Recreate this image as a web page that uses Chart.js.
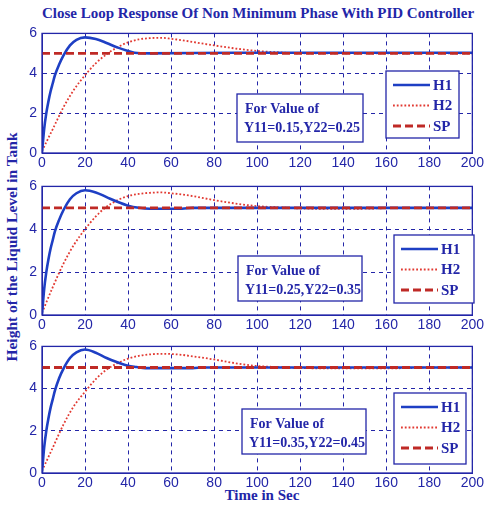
<!DOCTYPE html>
<html>
<head>
<meta charset="utf-8">
<script src="https://cdn.jsdelivr.net/npm/chart.js@4/dist/chart.umd.min.js"></script>
<style>
  body { margin:0; background:#fff; }
  #wrap { position:relative; width:486px; height:506px; overflow:hidden; }
  canvas { position:absolute; left:0; }
  .txt { position:absolute; font-family:"Liberation Serif","DejaVu Serif",serif; font-weight:bold; color:#2326a8; font-size:15px; white-space:nowrap; }
</style>
</head>
<body>
<div id="wrap">
  <div class="txt" style="left:0;width:516px;text-align:center;top:5px;">Close Loop Response Of Non Minimum Phase With PID Controller</div>
  <div class="txt" style="left:12px;top:247px;font-size:15.5px;transform:translate(-50%,-50%) rotate(-90deg);">Height of the Liquid Level in Tank</div>
  <div class="txt" style="left:0;width:524px;text-align:center;top:487px;">Time in Sec</div>
  <canvas id="c1" width="486" height="153" style="top:20px"></canvas>
  <canvas id="c2" width="486" height="162" style="top:173px"></canvas>
  <canvas id="c3" width="486" height="160" style="top:333px"></canvas>
</div>
<script>
// time axis ticks
var xTicks = [0, 20, 40, 60, 80, 100, 120, 140, 160, 180, 200];
var yTicks = [0, 2, 4, 6];

// panel 1 : Y11=0.15, Y22=0.25
var t1H1 = [0, 1, 2, 3, 4, 5, 6, 8, 10, 13, 16, 20, 25, 30, 35, 40, 43, 50, 90, 120, 160, 200];
var h1P1 = [0, 1.2, 2.0, 2.6, 3.1, 3.5, 3.9, 4.45, 4.9, 5.4, 5.68, 5.8, 5.72, 5.52, 5.3, 5.12, 5.03, 5.0, 5.03, 5.03, 5.03, 5.03];
var t1H2 = [0, 5, 10, 15, 20, 25, 30, 35, 40, 45, 50, 55, 60, 65, 70, 80, 90, 100, 110, 120, 160, 200];
var h2P1 = [0.1, 1.2, 2.3, 3.2, 3.9, 4.5, 4.95, 5.3, 5.55, 5.7, 5.76, 5.78, 5.73, 5.66, 5.57, 5.4, 5.24, 5.12, 5.05, 5.0, 5.0, 5.0];

// panel 2 : Y11=0.25, Y22=0.35
var t2H1 = [0, 1, 2, 3, 4, 5, 6, 8, 10, 13, 16, 20, 25, 30, 35, 40, 45, 50, 65, 70, 100, 200];
var h1P2 = [0, 1.2, 2.0, 2.6, 3.1, 3.5, 3.9, 4.45, 4.9, 5.4, 5.68, 5.82, 5.72, 5.5, 5.28, 5.1, 5.0, 4.96, 4.96, 5.0, 5.0, 5.0];
var t2H2 = [0, 5, 10, 15, 20, 25, 30, 35, 40, 45, 50, 55, 60, 65, 70, 80, 90, 100, 110, 125, 140, 155, 165, 200];
var h2P2 = [0.1, 1.3, 2.4, 3.3, 4.0, 4.6, 5.05, 5.35, 5.55, 5.65, 5.7, 5.72, 5.68, 5.62, 5.55, 5.36, 5.2, 5.08, 5.02, 4.96, 4.95, 4.97, 5.0, 5.0];

// panel 3 : Y11=0.35, Y22=0.45
var t3H1 = [0, 1, 2, 3, 4, 5, 6, 8, 10, 13, 16, 20, 25, 30, 35, 40, 44, 48, 70, 75, 200];
var h1P3 = [0, 1.2, 2.0, 2.6, 3.1, 3.5, 3.9, 4.5, 4.95, 5.45, 5.72, 5.85, 5.7, 5.45, 5.25, 5.08, 5.02, 4.97, 4.97, 5.0, 5.0];
var t3H2 = [0, 5, 10, 15, 20, 25, 30, 35, 40, 45, 50, 55, 60, 65, 70, 80, 90, 100, 110, 120, 150, 170, 180, 200];
var h2P3 = [0.1, 1.2, 2.3, 3.2, 3.85, 4.45, 4.9, 5.2, 5.42, 5.55, 5.62, 5.65, 5.64, 5.6, 5.53, 5.38, 5.2, 5.07, 5.02, 4.97, 4.96, 4.97, 5.0, 5.0];

// set point
var tSP = [0, 200];
var sp = [5, 5];

var notes = [
  ["For Value of", "Y11=0.15,Y22=0.25"],
  ["For Value of", "Y11=0.25,Y22=0.35"],
  ["For Value of", "Y11=0.35,Y22=0.45"]
];
var seriesNames = ["H1", "H2", "SP"];

var BLUE = '#2326a8';
var H1COL = '#1e3fc4';
var H2COL = '#e23a32';
var SPCOL = '#bf2a26';
var SERIF = '"Liberation Serif","DejaVu Serif",serif';
var SANS = '"Liberation Sans",Arial,sans-serif';

function pts(t, v){ return t.map((x, i)=> ({x: x, y: v[i]})); }

// boxes in page coords: legend, note
var boxes = [
  { top:20,  leg:[386, 71, 73, 67],  note:[237, 94, 126, 48] },
  { top:173, leg:[394, 235, 80, 68], note:[238, 256, 124, 45] },
  { top:333, leg:[394, 393, 72, 71], note:[242, 409, 124, 45] }
];

var panelPlugin = {
  id: 'panel',
  afterDraw(chart){
    var ctx = chart.ctx, a = chart.chartArea, o = chart.options.plugins.panel;
    ctx.save();
    // frame
    ctx.strokeStyle = BLUE; ctx.lineWidth = 1.3; ctx.setLineDash([]);
    ctx.strokeRect(a.left, a.top, a.right - a.left, a.bottom - a.top);
    // note box
    var n = o.box.note, top = o.box.top;
    ctx.fillStyle = '#fff';
    ctx.fillRect(n[0], n[1] - top, n[2], n[3]);
    ctx.strokeRect(n[0], n[1] - top, n[2], n[3]);
    ctx.fillStyle = BLUE; ctx.font = 'bold 14px ' + SERIF;
    ctx.textBaseline = 'middle'; ctx.textAlign = 'left';
    ctx.fillText(o.note[0], n[0] + 8, n[1] - top + 15);
    ctx.fillText(o.note[1], n[0] + 7, n[1] - top + 34);
    // legend box
    var l = o.box.leg;
    ctx.fillStyle = '#fff';
    ctx.fillRect(l[0], l[1] - top, l[2], l[3]);
    ctx.strokeRect(l[0], l[1] - top, l[2], l[3]);
    var ds = chart.data.datasets;
    for (var i = 0; i < 3; i++){
      var y = l[1] - top + 14 + i * 20.5;
      ctx.strokeStyle = ds[i].borderColor; ctx.lineWidth = ds[i].borderWidth;
      ctx.setLineDash(ds[i].borderDash || []);
      ctx.beginPath(); ctx.moveTo(l[0] + 7, y); ctx.lineTo(l[0] + 44, y); ctx.stroke();
      ctx.setLineDash([]);
      ctx.fillStyle = BLUE; ctx.font = 'bold 15px ' + SERIF;
      ctx.fillText(ds[i].label, l[0] + 47, y + 1);
    }
    ctx.restore();
  }
};

function makePanel(id, idx, tA, hA, tB, hB){
  new Chart(document.getElementById(id), {
    type: 'line',
    data: {
      datasets: [
        { label: seriesNames[0], data: pts(tA, hA), borderColor: H1COL, borderWidth: 2.6, pointRadius: 0, cubicInterpolationMode: 'monotone', order: 1 },
        { label: seriesNames[1], data: pts(tB, hB), borderColor: H2COL, borderWidth: 1.8, borderDash: [1.8, 2], pointRadius: 0, cubicInterpolationMode: 'monotone', order: 2 },
        { label: seriesNames[2], data: pts(tSP, sp), borderColor: SPCOL, borderWidth: 2.8, borderDash: [8, 4], pointRadius: 0, order: 0 }
      ]
    },
    options: {
      responsive: false,
      animation: false,
      layout: { padding: { top: 7, right: 13, left: 0, bottom: 0 } },
      plugins: {
        legend: { display: false },
        tooltip: { enabled: false },
        panel: { box: boxes[idx], note: notes[idx] }
      },
      scales: {
        x: {
          type: 'linear', min: 0, max: 200,
          afterBuildTicks: (s)=> { s.ticks = xTicks.map((v)=> ({value: v})); },
          afterFit: (s)=> { s.height = 20; },
          ticks: { color: BLUE, font: { family: SANS, size: 14 }, padding: 2, maxRotation: 0 },
          grid: { color: BLUE, lineWidth: 1, drawTicks: false },
          border: { display: true, color: BLUE, dash: [4, 4] }
        },
        y: {
          min: 0, max: 6,
          afterBuildTicks: (s)=> { s.ticks = yTicks.map((v)=> ({value: v})); },
          afterFit: (s)=> { s.width = 42; },
          ticks: { color: BLUE, font: { family: SANS, size: 14 }, padding: 5 },
          grid: { color: BLUE, lineWidth: 1, drawTicks: false },
          border: { display: true, color: BLUE, dash: [4, 4] }
        }
      }
    },
    plugins: [panelPlugin]
  });
}

makePanel('c1', 0, t1H1, h1P1, t1H2, h2P1);
makePanel('c2', 1, t2H1, h1P2, t2H2, h2P2);
makePanel('c3', 2, t3H1, h1P3, t3H2, h2P3);
</script>
</body>
</html>
